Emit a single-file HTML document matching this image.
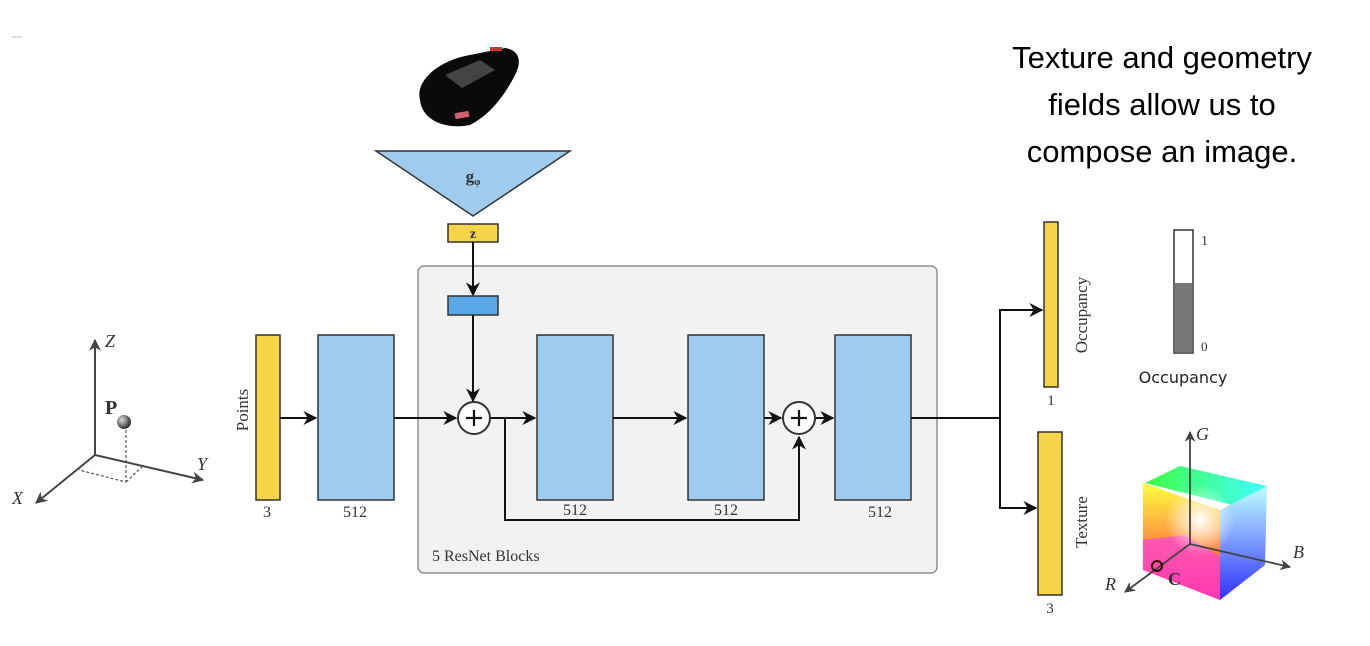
<!DOCTYPE html>
<html><head><meta charset="utf-8"><style>
body{margin:0;background:#fff;}
svg{display:block;}
.s{font-family:"Liberation Serif",serif;fill:#333;}
</style></head><body>
<svg width="1370" height="646" viewBox="0 0 1370 646" xmlns="http://www.w3.org/2000/svg">
<defs>
<marker id="a" viewBox="0 0 10 10" refX="9" refY="5" markerWidth="7" markerHeight="7" orient="auto"><path d="M0,0 L10,5 L0,10 L3,5z" fill="#111"/></marker>
<marker id="g" viewBox="0 0 10 10" refX="9" refY="5" markerWidth="6" markerHeight="6" orient="auto"><path d="M0,0 L10,5 L0,10 L3,5z" fill="#444"/></marker>
<linearGradient id="cf" x1="0" y1="0" x2="0" y2="1"><stop offset="0" stop-color="#ffff40"/><stop offset="1" stop-color="#ff2040"/></linearGradient>
<linearGradient id="ct" x1="0" y1="0" x2="1" y2="0"><stop offset="0" stop-color="#40ff40"/><stop offset="1" stop-color="#40ffff"/></linearGradient>
<linearGradient id="cr" x1="0" y1="0" x2="0" y2="1"><stop offset="0" stop-color="#c0ffff"/><stop offset="1" stop-color="#3030ff"/></linearGradient>
<radialGradient id="cw" cx="0.5" cy="0.5" r="0.5"><stop offset="0" stop-color="#fff"/><stop offset="1" stop-color="#fff" stop-opacity="0"/></radialGradient>
<radialGradient id="ball" cx="0.35" cy="0.35" r="0.7"><stop offset="0" stop-color="#ddd"/><stop offset="1" stop-color="#222"/></radialGradient>
</defs>
<line x1="12" y1="37" x2="22" y2="37" stroke="#bbb"/>
<!-- title -->
<g font-family="Liberation Sans,sans-serif" font-size="31" fill="#000" text-anchor="middle">
<text x="1162" y="68">Texture and geometry</text>
<text x="1162" y="115">fields allow us to</text>
<text x="1162" y="162">compose an image.</text>
</g>
<!-- car -->
<g>
<path d="M420,100 C415,80 440,60 470,55 L505,48 C520,50 522,62 515,75 C505,95 490,115 470,125 C445,130 422,120 420,100z" fill="#0a0a0a"/>
<path d="M445,75 L480,60 L495,70 L462,88z" fill="#444"/>
<rect x="455" y="112" width="14" height="6" fill="#d06070" transform="rotate(-10 462 115)"/>
<rect x="490" y="47" width="12" height="4" fill="#c33"/>
</g>
<!-- triangle -->
<polygon points="376,151 570,151 473,216" fill="#9fcbee" stroke="#333" stroke-width="1.5"/>
<text x="473" y="182" class="s" font-size="17" text-anchor="middle" font-weight="bold" fill="#2a3a5a">g<tspan font-size="10" dy="3">φ</tspan></text>
<rect x="448" y="224" width="50" height="18" fill="#f5d44a" stroke="#333" stroke-width="1.5"/>
<text x="473" y="238" class="s" font-size="14" font-weight="bold" text-anchor="middle" fill="#222">z</text>
<!-- gray box -->
<rect x="418" y="266" width="519" height="307" rx="6" fill="#f2f2f2" stroke="#777" stroke-width="1.2"/>
<text x="432" y="561" class="s" font-size="16">5 ResNet Blocks</text>
<line x1="473" y1="242" x2="473" y2="295" stroke="#111" stroke-width="2" marker-end="url(#a)"/>
<rect x="448" y="296" width="50" height="19" fill="#5aa8e8" stroke="#333" stroke-width="1.5"/>
<line x1="473" y1="315" x2="473" y2="401" stroke="#111" stroke-width="2" marker-end="url(#a)"/>
<!-- axes -->
<g stroke="#444" stroke-width="2" fill="none">
<line x1="95" y1="455" x2="95" y2="340" marker-end="url(#g)"/>
<line x1="95" y1="455" x2="203" y2="480" marker-end="url(#g)"/>
<line x1="95" y1="455" x2="36" y2="503" marker-end="url(#g)"/>
</g>
<g stroke="#555" stroke-width="1.2" stroke-dasharray="3,2" fill="none">
<path d="M126,425 L126,482 L79,470 M126,482 L143,466"/>
</g>
<circle cx="124" cy="422" r="7" fill="url(#ball)"/>
<text x="105" y="414" class="s" font-size="20" font-weight="bold" fill="#222">P</text>
<text x="105" y="347" class="s" font-size="18" font-style="italic" fill="#555">Z</text>
<text x="197" y="470" class="s" font-size="18" font-style="italic" fill="#555">Y</text>
<text x="12" y="504" class="s" font-size="18" font-style="italic" fill="#555">X</text>
<!-- points bar -->
<rect x="256" y="335" width="24" height="165" fill="#f5d44a" stroke="#333" stroke-width="1.5"/>
<text x="267" y="517" class="s" font-size="16" text-anchor="middle">3</text>
<text transform="translate(248,410) rotate(-90)" class="s" font-size="17" text-anchor="middle">Points</text>
<line x1="280" y1="418" x2="316" y2="418" stroke="#111" stroke-width="2" marker-end="url(#a)"/>
<!-- blocks -->
<g fill="#9fcbee" stroke="#333" stroke-width="1.5">
<rect x="318" y="335" width="76" height="165"/>
<rect x="537" y="335" width="76" height="165"/>
<rect x="688" y="335" width="76" height="165"/>
<rect x="835" y="335" width="76" height="165"/>
</g>
<g class="s" font-size="16" text-anchor="middle">
<text x="355" y="517">512</text><text x="575" y="515">512</text><text x="726" y="515">512</text><text x="880" y="517">512</text>
</g>
<g stroke="#111" stroke-width="2" fill="none">
<line x1="394" y1="418" x2="456" y2="418" marker-end="url(#a)"/>
<line x1="490" y1="418" x2="535" y2="418" marker-end="url(#a)"/>
<line x1="613" y1="418" x2="686" y2="418" marker-end="url(#a)"/>
<line x1="764" y1="418" x2="781" y2="418" marker-end="url(#a)"/>
<line x1="815" y1="418" x2="833" y2="418" marker-end="url(#a)"/>
<polyline points="505,418 505,520 799,520 799,437" marker-end="url(#a)"/>
<polyline points="911,418 1000,418"/>
<polyline points="1000,418 1000,310 1042,310" marker-end="url(#a)"/>
<polyline points="1000,418 1000,508 1036,508" marker-end="url(#a)"/>
</g>
<g fill="#fff" stroke="#333" stroke-width="2">
<circle cx="474" cy="418" r="16"/><circle cx="799" cy="418" r="16"/>
</g>
<g stroke="#111" stroke-width="2.2"><line x1="466" y1="418" x2="482" y2="418"/><line x1="474" y1="410" x2="474" y2="426"/><line x1="791" y1="418" x2="807" y2="418"/><line x1="799" y1="410" x2="799" y2="426"/></g>
<!-- outputs -->
<rect x="1044" y="222" width="14" height="165" fill="#f5d44a" stroke="#333" stroke-width="1.5"/>
<text x="1051" y="405" class="s" font-size="15" text-anchor="middle">1</text>
<text transform="translate(1087,315) rotate(-90)" class="s" font-size="17" text-anchor="middle" fill="#555">Occupancy</text>
<rect x="1038" y="432" width="24" height="163" fill="#f5d44a" stroke="#333" stroke-width="1.5"/>
<text x="1050" y="613" class="s" font-size="15" text-anchor="middle">3</text>
<text transform="translate(1087,522) rotate(-90)" class="s" font-size="17" text-anchor="middle" fill="#555">Texture</text>
<!-- gauge -->
<rect x="1174" y="230" width="19" height="123" fill="#fff" stroke="#333" stroke-width="1.5"/>
<rect x="1175" y="283" width="17" height="69" fill="#777"/>
<text x="1201" y="245" class="s" font-size="14">1</text>
<text x="1201" y="351" class="s" font-size="13">0</text>
<text x="1183" y="383" font-family="DejaVu Sans,sans-serif" font-size="16" fill="#222" text-anchor="middle">Occupancy</text>
<!-- cube -->
<polygon points="1145,483 1180,466 1267,486 1232,505" fill="url(#ct)"/>
<polygon points="1145,483 1232,505 1232,590 1145,565" fill="url(#cf)" opacity="0"/>
<polygon points="1143,483 1143,570 1220,600 1220,510" fill="url(#cf)"/>
<polygon points="1143,540 1143,570 1220,600 1225,560 1185,535" fill="#ff40e0" opacity="0.7"/>
<polygon points="1220,510 1267,486 1265,565 1220,600" fill="url(#cr)"/>
<ellipse cx="1200" cy="520" rx="35" ry="35" fill="url(#cw)"/>
<g stroke="#444" stroke-width="1.8" fill="none">
<line x1="1190" y1="544" x2="1190" y2="432" marker-end="url(#g)"/>
<line x1="1190" y1="544" x2="1290" y2="567" marker-end="url(#g)"/>
<line x1="1190" y1="544" x2="1125" y2="592" marker-end="url(#g)"/>
</g>
<circle cx="1157" cy="566" r="5" fill="none" stroke="#300" stroke-width="2"/>
<text x="1168" y="585" class="s" font-size="18" font-weight="bold" fill="#400">C</text>
<text x="1196" y="440" class="s" font-size="18" font-style="italic" fill="#555">G</text>
<text x="1293" y="558" class="s" font-size="18" font-style="italic" fill="#555">B</text>
<text x="1105" y="590" class="s" font-size="18" font-style="italic" fill="#555">R</text>
</svg>
</body></html>
